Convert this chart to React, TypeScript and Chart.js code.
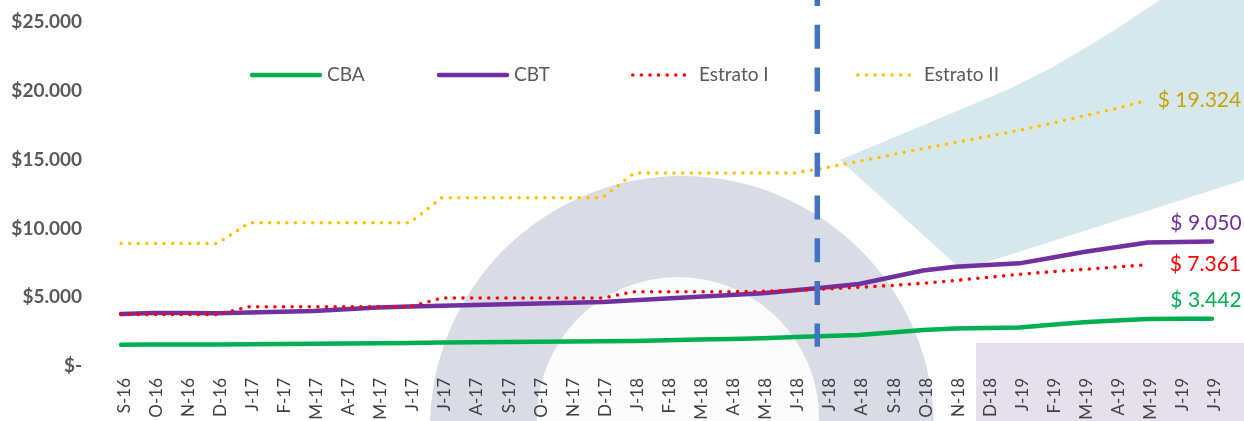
import React, { useEffect, useRef } from 'react';
import { Chart, registerables } from 'chart.js';

Chart.register(...registerables);

const MONTHS = ['S-16','O-16','N-16','D-16','J-17','F-17','M-17','A-17','M-17','J-17','J-17','A-17','S-17','O-17','N-17','D-17','J-18','F-18','M-18','A-18','M-18','J-18','J-18','A-18','S-18','O-18','N-18','D-18','J-19','F-19','M-19','A-19','M-19','J-19','J-19'];

const CBA = [1550,1570,1570,1560,1580,1600,1610,1630,1660,1680,1700,1720,1740,1760,1780,1800,1820,1870,1920,1960,2020,2100,2180,2250,2430,2620,2730,2760,2800,2990,3180,3300,3410,3425,3442];

const CBT = [3780,3850,3850,3830,3880,3940,4000,4120,4250,4320,4370,4430,4490,4540,4600,4660,4780,4910,5030,5160,5280,5500,5720,5960,6450,6940,7220,7340,7460,7870,8280,8630,8970,9010,9050];

const ESTRATO_I = [3750,3750,3750,3750,4310,4310,4310,4310,4310,4310,4940,4940,4940,4940,4940,4940,5400,5400,5400,5400,5420,5490,5600,5720,5850,6010,6220,6440,6660,6850,7020,7190,7361,null,null];

const ESTRATO_II = [8900,8900,8900,8900,10410,10410,10410,10410,10410,10410,12230,12230,12230,12230,12230,12230,14030,14030,14030,14030,14030,14030,14420,14870,15330,15800,16250,16680,17130,17640,18170,18700,19324,null,null];

const SERIES_NAMES = ['CBA', 'CBT', 'Estrato I', 'Estrato II'];
const Y_TICKS = [0, 5000, 10000, 15000, 20000, 25000];
// position (in category index units) of the vertical dashed separator, and its lower end in value units
const SEPARATOR_INDEX = 21.7;
const SEPARATOR_BOTTOM_VALUE = 1400;

const fmt = (v: number) => Math.round(v).toString().replace(/\B(?=(\d{3})+(?!\d))/g, '.');

const FONT = 'Lato, "Open Sans", sans-serif';

const bgPlugin = {
  id: 'bgShapes',
  beforeDraw(chart: any) {
    const ctx = chart.ctx as CanvasRenderingContext2D;
    ctx.save();
    ctx.fillStyle = '#ffffff';
    ctx.fillRect(0, 0, chart.width, chart.height);
    // grey arch
    ctx.fillStyle = '#D9DCE5';
    ctx.beginPath();
    ctx.arc(682, 428, 252, 0, Math.PI * 2);
    ctx.fill();
    ctx.fillStyle = '#FCFCFD';
    ctx.beginPath();
    ctx.arc(678, 418, 141, 0, Math.PI * 2);
    ctx.fill();
    // teal band
    ctx.fillStyle = '#D6E8EC';
    ctx.beginPath();
    ctx.moveTo(840, 160);
    ctx.lineTo(1007, 90);
    ctx.lineTo(1053, 67);
    ctx.lineTo(1110, 33);
    ctx.lineTo(1160, 0);
    ctx.lineTo(1244, 0);
    ctx.lineTo(1244, 180);
    ctx.lineTo(962, 270);
    ctx.closePath();
    ctx.fill();
    // lavender block
    ctx.fillStyle = '#E6E0EC';
    ctx.fillRect(976, 343, 268, 78);
    ctx.restore();
  },
};

const overlayPlugin = {
  id: 'overlay',
  afterDatasetsDraw(chart: any) {
    const ctx = chart.ctx as CanvasRenderingContext2D;
    const xs = chart.scales.x;
    const ys = chart.scales.y;
    ctx.save();
    // dashed separator
    const sx = xs.getPixelForValue(SEPARATOR_INDEX);
    ctx.strokeStyle = '#4472C4';
    ctx.lineWidth = 5.5;
    ctx.setLineDash([24, 18.7]);
    ctx.lineDashOffset = 18;
    ctx.beginPath();
    ctx.moveTo(sx, 0);
    ctx.lineTo(sx, ys.getPixelForValue(SEPARATOR_BOTTOM_VALUE));
    ctx.stroke();
    ctx.setLineDash([]);

    // end value labels
    ctx.font = `21px ${FONT}`;
    ctx.textBaseline = 'middle';
    const last = (arr: (number | null)[]) => {
      let i = arr.length - 1;
      while (arr[i] == null) i--;
      return i;
    };
    const lbl = (arr: (number | null)[], color: string, mode: 'right' | 'above', dx: number) => {
      const i = last(arr);
      const v = arr[i] as number;
      const px = xs.getPixelForValue(i);
      const py = ys.getPixelForValue(v);
      ctx.fillStyle = color;
      const t = '$ ' + fmt(v);
      if (mode === 'right') {
        ctx.textAlign = 'left';
        ctx.fillText(t, px + dx, py);
      } else {
        ctx.textAlign = 'center';
        ctx.fillText(t, px + dx, py - 18);
      }
    };
    lbl(ESTRATO_II, '#C9A20A', 'right', 10);
    lbl(CBT, '#7030A0', 'above', -6);
    lbl(ESTRATO_I, '#FF0000', 'right', 22);
    lbl(CBA, '#00B050', 'above', -6);

    // legend
    const items = chart.data.datasets.map((d: any) => d);
    const lx = [250, 437, 622, 847];
    const ly = 75;
    items.forEach((d: any, k: number) => {
      const x0 = lx[k];
      ctx.strokeStyle = d.borderColor;
      ctx.lineCap = 'round';
      if (d.borderDash && d.borderDash.length) {
        ctx.lineWidth = d.borderWidth;
        ctx.setLineDash(d.borderDash);
        ctx.beginPath();
        ctx.moveTo(x0 + 3, ly);
        ctx.lineTo(x0 + 66, ly);
        ctx.stroke();
        ctx.setLineDash([]);
      } else {
        ctx.lineWidth = d.borderWidth;
        ctx.beginPath();
        ctx.moveTo(x0 + 2, ly);
        ctx.lineTo(x0 + 70, ly);
        ctx.stroke();
      }
      ctx.fillStyle = '#595959';
      ctx.font = `19px ${FONT}`;
      ctx.textAlign = 'left';
      ctx.fillText(d.label, x0 + 77, ly);
    });
    ctx.restore();
  },
};

export default function App() {
  const ref = useRef<HTMLCanvasElement | null>(null);
  useEffect(() => {
    if (!ref.current) return;
    const dotted = [0, 8.6];
    const chart = new Chart(ref.current, {
      type: 'line',
      data: {
        labels: MONTHS,
        datasets: [
          { label: SERIES_NAMES[0], data: CBA, borderColor: '#00B050', borderWidth: 4.5, order: 0 },
          { label: SERIES_NAMES[1], data: CBT, borderColor: '#7030A0', borderWidth: 4.5, order: 2 },
          { label: SERIES_NAMES[2], data: ESTRATO_I, borderColor: '#FF0000', borderWidth: 3.6, borderDash: dotted, order: 1 },
          { label: SERIES_NAMES[3], data: ESTRATO_II, borderColor: '#FFC000', borderWidth: 3.6, borderDash: dotted, order: 3 },
        ].map((d) => ({
          ...d,
          pointRadius: 0,
          pointHoverRadius: 0,
          tension: 0,
          fill: false,
          borderCapStyle: 'round' as const,
          borderJoinStyle: 'round' as const,
          spanGaps: false,
        })),
      },
      options: {
        animation: false,
        responsive: true,
        maintainAspectRatio: false,
        events: [],
        layout: { padding: { left: 0, right: 16, top: 22, bottom: 0 } },
        plugins: {
          legend: { display: false },
          tooltip: { enabled: false },
          title: { display: false },
        },
        scales: {
          x: {
            type: 'category',
            offset: true,
            grid: { display: false, drawTicks: false },
            border: { display: false },
            ticks: {
              autoSkip: false,
              maxRotation: 90,
              minRotation: 90,
              padding: 12,
              labelOffset: 3,
              color: '#404040',
              font: { family: FONT, size: 17 },
            },
            afterFit: (s: any) => { s.height = 55; s.paddingLeft = 0; s.paddingRight = 0; },
          },
          y: {
            min: 0,
            max: 25000,
            afterBuildTicks: (s: any) => { s.ticks = Y_TICKS.map((v) => ({ value: v })); },
            grid: { display: false, drawTicks: false },
            border: { display: false },
            ticks: {
              padding: 23,
              color: '#595959',
              font: { family: FONT, size: 19, weight: 'bold' },
              callback: (v: any) => (Number(v) === 0 ? '$-' : '$' + fmt(Number(v))),
            },
            afterFit: (s: any) => { s.width = 105; s.paddingTop = 0; s.paddingBottom = 0; },
          },
        },
      },
      plugins: [bgPlugin, overlayPlugin],
    });
    return () => chart.destroy();
  }, []);
  return (
    <div style={{ position: 'fixed', left: 0, top: 0, width: 1244, height: 421, background: '#fff' }}>
      <canvas ref={ref} />
    </div>
  );
}
